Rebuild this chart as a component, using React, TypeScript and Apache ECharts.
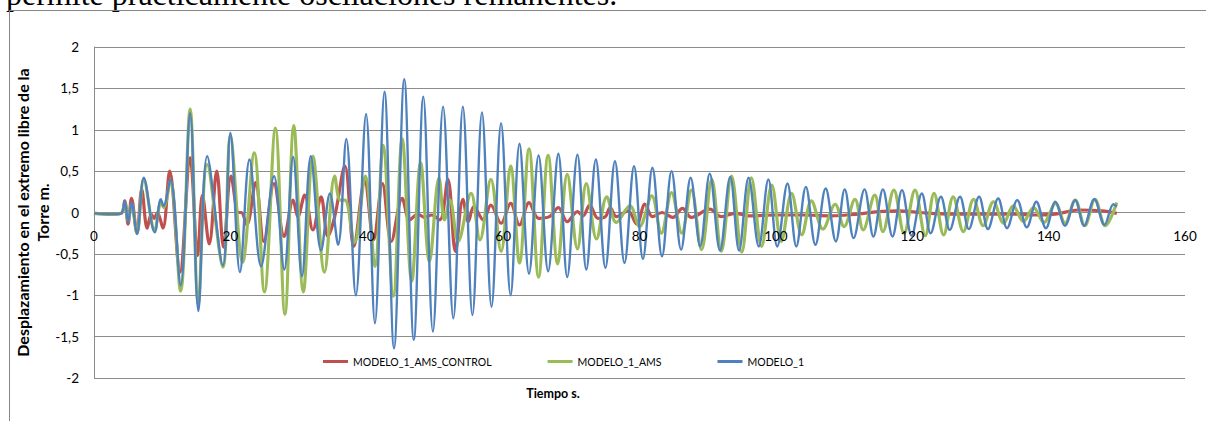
import React, { useEffect, useRef } from "react";
import * as echarts from "echarts";

// ---- Data (time in s, displacement in m) ----
const seriesNames = ["MODELO_1_AMS_CONTROL", "MODELO_1_AMS", "MODELO_1"];
const seriesColors = ["#C0504D", "#9BBB59", "#4F81BD"];

const controlTime = [
  0, 2.3, 4.0, 4.5, 5.0, 5.5, 6.3, 7.0, 7.8, 8.4, 8.8, 9.3, 10.1, 11.1, 12.6, 14.1, 15.2, 15.9, 16.9, 18.0,
  19.0, 20.1, 21.2, 21.6, 22.4, 23.7, 24.9, 26.4, 27.9, 29.2, 29.9, 30.9, 32.1, 33.3, 34.3, 35.3, 36.8, 38.1,
  39.7, 41.0, 42.3, 43.6, 45.2, 46.3, 47.5, 48.5, 49.5, 50.7, 51.9, 53.0, 54.1, 54.9, 55.7, 57.1, 58.2, 59.7,
  61.1, 62.4, 63.8, 65.2, 66.8, 68.1, 69.4, 70.9, 71.7, 72.7, 73.9, 75.0, 75.7, 76.6, 78.3, 79.6, 80.8, 81.9,
  83.3, 84.9, 86.3, 87.6, 90.3, 92.0, 94.0, 96.0, 100, 104, 108, 112, 115, 118, 121, 126, 131, 135, 138, 141,
  144.4, 147.8, 150,
];
const controlDisp = [
  -0.01, -0.02, -0.01, 0.14, -0.14, 0.17, -0.25, 0.28, -0.19, -0.02, -0.07, 0.0, -0.19, 0.5, -0.72, 0.66, -0.52,
  0.21, -0.38, 0.5, -0.42, 0.44, 0.0, 0.0, -0.15, 0.36, -0.35, 0.35, -0.29, 0.15, -0.05, 0.21, -0.21, 0.19,
  -0.29, -0.05, 0.56, -0.41, 0.38, -0.33, 0.35, -0.35, 0.17, -0.09, -0.02, -0.06, -0.03, -0.09, 0.4, -0.47, 0.16,
  -0.11, 0.07, -0.09, 0.09, -0.13, 0.11, -0.15, 0.12, -0.07, -0.05, 0.06, -0.11, 0.01, -0.04, 0.09, -0.07,
  -0.05, 0.06, -0.05, 0.02, -0.14, 0.1, -0.05, 0.0, -0.06, 0.05, -0.06, 0.04, -0.05, -0.01, -0.04, -0.03,
  -0.03, -0.04, -0.02, 0.01, 0.02, 0.0, -0.02, -0.02, -0.02, -0.03, -0.02, 0.03, 0.02, -0.01,
];

const amsTime = [
  0, 2.3, 4.0, 4.5, 5.0, 5.5, 6.3, 7.3, 8.9, 9.8, 10.2, 11.2, 12.7, 14.1, 15.3, 16.6, 18.9, 20.0, 21.8, 23.5,
  25.0, 26.6, 28.0, 29.3, 30.7, 32.1, 33.8, 35.3, 36.1, 36.8, 38.2, 39.8, 41.2, 42.4, 43.9, 45.2, 46.6, 47.9,
  49.2, 50.6, 51.4, 52.2, 53.4, 55.3, 56.6, 58.2, 59.7, 61.1, 62.4, 63.8, 65.2, 66.6, 68.0, 69.4, 70.9, 72.2,
  73.7, 75.2, 76.6, 78.6, 80.0, 81.8, 83.2, 84.7, 86.2, 87.6, 89.1, 90.6, 92.0, 93.5, 95.0, 96.4, 97.9, 99.4,
  100.8, 102.3, 103.8, 105.2, 106.9, 108.7, 110.0, 111.6, 112.8, 114.5, 115.7, 117.3, 118.8, 120.4, 121.9,
  123.2, 124.6, 126.0, 127.5, 129.0, 130.4, 131.9, 133.4, 134.8, 136.3, 137.8, 139.3, 141.0, 142.4, 143.9,
  145.3, 146.8, 148.3, 150.0,
];
const amsDisp = [
  -0.01, -0.02, -0.01, 0.12, -0.1, 0.1, -0.25, 0.4, -0.22, 0.12, 0.06, 0.38, -0.95, 1.25, -1.1, 0.58, -0.66,
  0.92, -0.6, 0.72, -0.96, 1.02, -1.23, 1.05, -0.96, 0.68, -0.72, 0.44, 0.15, 0.15, -0.36, 0.44, -0.65, 0.81,
  -1.01, 0.89, -0.83, 0.6, -0.59, 0.42, -0.09, 0.15, -0.35, 0.23, -0.33, 0.4, -0.47, 0.56, -0.61, 0.77, -0.78,
  0.69, -0.62, 0.46, -0.44, 0.35, -0.32, 0.19, -0.12, 0.08, -0.17, 0.2, -0.25, 0.24, -0.25, 0.27, -0.45, 0.4,
  -0.47, 0.44, -0.48, 0.42, -0.41, 0.33, -0.35, 0.23, -0.27, 0.14, -0.2, 0.1, -0.17, 0.16, -0.21, 0.21, -0.23,
  0.27, -0.25, 0.27, -0.28, 0.23, -0.27, 0.19, -0.23, 0.16, -0.16, 0.13, -0.13, 0.08, -0.11, 0.06, -0.12, 0.11,
  -0.13, 0.15, -0.16, 0.16, -0.16, 0.12,
];

const modelo1Time = [
  0, 2.3, 4.0, 4.5, 5.0, 5.5, 6.3, 7.3, 8.9, 9.8, 10.2, 11.2, 12.7, 14.1, 15.3, 16.6, 18.9, 20.0, 21.4, 22.8,
  24.5, 26.4, 27.9, 29.2, 30.5, 31.8, 33.3, 34.6, 35.8, 37.0, 38.4, 39.9, 41.2, 42.6, 44.0, 45.5, 46.9, 48.3,
  49.7, 51.2, 52.7, 54.1, 55.5, 56.9, 58.3, 59.7, 61.1, 62.4, 63.8, 65.2, 66.6, 68.1, 69.4, 70.9, 72.2, 73.6,
  75.0, 76.4, 77.8, 79.2, 80.5, 81.9, 83.3, 84.7, 86.1, 87.5, 88.9, 90.3, 91.8, 93.3, 94.6, 96.0, 97.5, 98.9,
  100.2, 101.7, 103.0, 104.4, 105.8, 107.3, 108.8, 110.1, 111.4, 113.0, 114.3, 115.7, 117.1, 118.5, 119.9,
  121.4, 122.7, 124.2, 125.5, 127.0, 128.3, 129.8, 131.1, 132.6, 133.9, 135.4, 136.8, 138.2, 139.6, 141.0,
  142.4, 143.9, 145.2, 146.7, 148.2, 149.5, 150.0,
];
const modelo1Disp = [
  -0.01, -0.02, -0.01, 0.14, -0.12, 0.12, -0.26, 0.42, -0.24, 0.16, 0.08, 0.4, -0.88, 1.2, -1.19, 0.68, -0.64,
  0.96, -0.72, 0.64, -0.65, 0.44, -0.69, 0.67, -0.77, 0.68, -0.46, 0.23, -0.39, 0.89, -1.0, 1.19, -1.34, 1.46,
  -1.64, 1.61, -1.54, 1.4, -1.44, 1.28, -1.28, 1.28, -1.24, 1.21, -1.14, 1.08, -1.0, 0.83, -0.74, 0.69, -0.71,
  0.71, -0.78, 0.7, -0.69, 0.64, -0.67, 0.62, -0.61, 0.56, -0.56, 0.54, -0.53, 0.5, -0.45, 0.42, -0.41, 0.47,
  -0.46, 0.43, -0.46, 0.42, -0.41, 0.4, -0.41, 0.35, -0.41, 0.31, -0.39, 0.29, -0.35, 0.28, -0.31, 0.28, -0.29,
  0.28, -0.29, 0.27, -0.28, 0.23, -0.25, 0.19, -0.21, 0.19, -0.2, 0.19, -0.2, 0.17, -0.19, 0.15, -0.18, 0.13,
  -0.19, 0.13, -0.16, 0.15, -0.16, 0.16, -0.15, 0.1, 0.07,
];

const xTicks = { min: 0, max: 160, interval: 20 };
const yTicks = { min: -2, max: 2, interval: 0.5 };

const yTitle = "Desplazamiento en el extremo libre de la\nTorre m.";
const xTitle = "Tiempo s.";
const topText = "permite prácticamente oscilaciones remanentes.";

const zip = (t: number[], v: number[]) => t.map((x, i) => [x, v[i]]);

export default function App() {
  const ref = useRef<HTMLDivElement>(null);
  useEffect(() => {
    if (!ref.current) return;
    const chart = echarts.init(ref.current, null, { renderer: "svg" });
    const gridColor = "#8C8C8C";
    const font = "Lato";
    const gridTop = 47;
    const gridBottom = 43;
    const plotH = 421 - gridTop - gridBottom;
    // Excel draws the category axis where y = 0: shift the bottom axis up by that distance
    const zeroOffset = -plotH * ((0 - yTicks.min) / (yTicks.max - yTicks.min));
    const datasets = [
      zip(controlTime, controlDisp),
      zip(amsTime, amsDisp),
      zip(modelo1Time, modelo1Disp),
    ];
    const widths = [3.2, 3.2, 2.4];
    chart.setOption({
      animation: false,
      backgroundColor: "#fff",
      grid: { left: 94, right: 21, top: gridTop, bottom: gridBottom, containLabel: false },
      xAxis: {
        type: "value",
        min: xTicks.min,
        max: xTicks.max,
        interval: xTicks.interval,
        position: "bottom",
        offset: zeroOffset,
        z: 20,
        axisLine: { show: false, onZero: false },
        axisTick: { show: false },
        axisLabel: { margin: 16, fontSize: 13.5, color: "#000", fontFamily: font },
        splitLine: { show: false },
      },
      yAxis: {
        type: "value",
        min: yTicks.min,
        max: yTicks.max,
        interval: yTicks.interval,
        z: -10,
        axisLine: { show: true, lineStyle: { color: gridColor, width: 1 } },
        axisTick: { show: false },
        axisLabel: {
          margin: 15,
          fontSize: 13.5,
          color: "#000",
          fontFamily: font,
          formatter: (v: number) => String(v).replace(".", ","),
        },
        splitLine: { show: true, lineStyle: { color: gridColor, width: 1 } },
      },
      legend: {
        data: seriesNames,
        left: 318,
        top: 351,
        itemWidth: 25,
        itemHeight: 3,
        itemGap: 56,
        icon: "rect",
        textStyle: { fontSize: 10.5, color: "#000", fontFamily: font },
      },
      series: seriesNames.map((name, i) => ({
        name,
        type: "line",
        data: datasets[i],
        showSymbol: false,
        smooth: 0.36,
        color: seriesColors[i],
        lineStyle: { width: widths[i], color: seriesColors[i] },
        z: -3 + i,
      })),
      graphic: [
        {
          type: "text",
          x: 6,
          y: -6,
          silent: true,
          style: {
            text: topText,
            fontSize: 32,
            fontFamily: "Liberation Serif",
            fill: "#000",
            verticalAlign: "middle",
          },
        },
        {
          type: "polyline",
          silent: true,
          shape: { points: [[9.5, 421], [9.5, 10.5], [1206, 10.5]] },
          style: { stroke: "#868686", lineWidth: 1, fill: "none" },
        },
        {
          type: "text",
          x: 32,
          y: 212.5,
          rotation: Math.PI / 2,
          silent: true,
          style: {
            text: yTitle,
            fontSize: 16,
            lineHeight: 20,
            fontWeight: "bold",
            fontFamily: font,
            fill: "#000",
            align: "center",
            verticalAlign: "middle",
          },
        },
        {
          type: "text",
          x: 553,
          y: 393,
          silent: true,
          style: {
            text: xTitle,
            fontSize: 12.5,
            fontWeight: "bold",
            fontFamily: font,
            fill: "#000",
            align: "center",
            verticalAlign: "middle",
          },
        },
      ],
    });
    return () => chart.dispose();
  }, []);
  return (
    <div
      ref={ref}
      style={{ position: "absolute", left: 0, top: 0, width: 1206, height: 421 }}
    />
  );
}
